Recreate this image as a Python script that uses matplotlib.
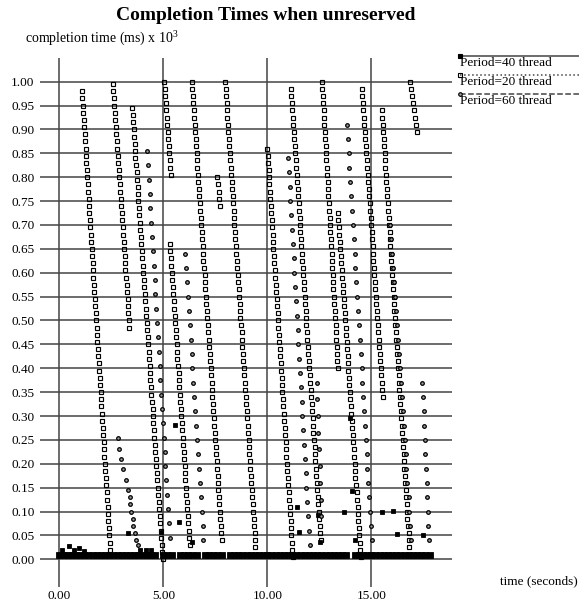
import matplotlib
matplotlib.use('Agg')
import matplotlib.pyplot as plt

plt.rcParams['font.family'] = ['Liberation Serif', 'DejaVu Serif']
plt.rcParams['mathtext.fontset'] = 'custom'
plt.rcParams['mathtext.rm'] = 'Liberation Serif'

# ---- data (time in s, completion time in ms x 10^3) ----
# Period=20 thread: open squares, one list per diagonal streak
p20_s1 = [(1.09,.98),(1.11,.965),(1.13,.95),(1.15,.935),(1.17,.92),(1.2,.905),(1.22,.89),(1.24,.875),(1.26,.86),(1.28,.845),(1.3,.83),(1.32,.815),(1.34,.8),(1.37,.785),(1.39,.77),(1.41,.755),(1.43,.74),(1.45,.725),(1.47,.71),(1.49,.695),(1.51,.68),(1.53,.665),(1.56,.65),(1.58,.635),(1.6,.62),(1.62,.605),(1.64,.59),(1.66,.575),(1.68,.56),(1.7,.545),(1.72,.53),(1.75,.515),(1.77,.5),(1.79,.485),(1.81,.47),(1.83,.455),(1.85,.44),(1.87,.425),(1.89,.41),(1.91,.395),(1.94,.38),(1.96,.365),(1.98,.35),(2.0,.335),(2.02,.32),(2.04,.305),(2.06,.29),(2.08,.275),(2.1,.26),(2.13,.245),(2.15,.23),(2.17,.215),(2.19,.2),(2.21,.185),(2.23,.17),(2.25,.155),(2.27,.14),(2.29,.125),(2.32,.11),(2.34,.095),(2.36,.08),(2.38,.065),(2.4,.05),(2.42,.035),(2.44,.02)]
p20_s2 = [(2.58,.995),(2.6,.98),(2.63,.965),(2.65,.95),(2.67,.935),(2.7,.92),(2.72,.905),(2.74,.89),(2.77,.875),(2.79,.86),(2.81,.845),(2.84,.83),(2.86,.815),(2.88,.8),(2.91,.785),(2.93,.77),(2.95,.755),(2.98,.74),(3.0,.725),(3.02,.71),(3.05,.695),(3.07,.68),(3.09,.665),(3.11,.65),(3.14,.635),(3.16,.62),(3.18,.605),(3.21,.59),(3.23,.575),(3.25,.56),(3.28,.545),(3.3,.53),(3.32,.515),(3.35,.5),(3.37,.485)]
p20_s3 = [(3.5,.945),(3.52,.93),(3.55,.915),(3.57,.9),(3.59,.885),(3.62,.87),(3.64,.855),(3.66,.84),(3.69,.825),(3.71,.81),(3.73,.795),(3.76,.78),(3.78,.765),(3.8,.75),(3.83,.735),(3.85,.72),(3.87,.705),(3.9,.69),(3.92,.675),(3.94,.66),(3.97,.645),(3.99,.63),(4.01,.615),(4.03,.6),(4.06,.585),(4.08,.57),(4.1,.555),(4.13,.54),(4.15,.525),(4.17,.51),(4.2,.495),(4.22,.48),(4.24,.465),(4.27,.45),(4.29,.435),(4.31,.42),(4.34,.405),(4.36,.39),(4.38,.375),(4.41,.36),(4.43,.345),(4.45,.33),(4.48,.315),(4.5,.3),(4.52,.285),(4.55,.27),(4.57,.255),(4.59,.24),(4.62,.225),(4.64,.21),(4.66,.195),(4.69,.18),(4.71,.165),(4.73,.15),(4.76,.135),(4.78,.12),(4.8,.105),(4.83,.09),(4.85,.075),(4.87,.06),(4.9,.045),(4.92,.03),(4.94,.015),(4.97,.0)]
p20_s4a = [(5.05,1.0),(5.07,.985),(5.1,.97),(5.12,.955),(5.15,.94),(5.17,.925),(5.19,.91),(5.22,.895),(5.24,.88),(5.27,.865),(5.29,.85),(5.31,.835),(5.34,.82),(5.36,.805)]
p20_s4b = [(5.32,.66),(5.34,.645),(5.37,.63),(5.39,.615),(5.41,.6),(5.43,.585),(5.46,.57),(5.48,.555),(5.5,.54),(5.52,.525),(5.55,.51),(5.57,.495),(5.59,.48),(5.61,.465),(5.64,.45),(5.66,.435),(5.68,.42),(5.7,.405),(5.73,.39),(5.75,.375),(5.77,.36),(5.79,.345),(5.82,.33),(5.84,.315),(5.86,.3),(5.88,.285),(5.91,.27),(5.93,.255),(5.95,.24),(5.97,.225),(6.0,.21),(6.02,.195),(6.04,.18),(6.06,.165),(6.09,.15),(6.11,.135),(6.13,.12),(6.15,.105),(6.18,.09),(6.2,.075),(6.22,.06),(6.24,.045),(6.27,.03)]
p20_s5 = [(6.37,1.0),(6.39,.985),(6.42,.97),(6.44,.955),(6.46,.94),(6.48,.925),(6.51,.91),(6.53,.895),(6.55,.88),(6.57,.865),(6.6,.85),(6.62,.835),(6.64,.82),(6.66,.805),(6.69,.79),(6.71,.775),(6.73,.76),(6.75,.745),(6.78,.73),(6.8,.715),(6.82,.7),(6.84,.685),(6.87,.67),(6.89,.655),(6.91,.64),(6.93,.625),(6.96,.61),(6.98,.595),(7.0,.58),(7.02,.565),(7.05,.55),(7.07,.535),(7.09,.52),(7.11,.505),(7.14,.49),(7.16,.475),(7.18,.46),(7.2,.445),(7.23,.43),(7.25,.415),(7.27,.4),(7.29,.385),(7.32,.37),(7.34,.355),(7.36,.34),(7.38,.325),(7.41,.31),(7.43,.295),(7.45,.28),(7.47,.265),(7.5,.25),(7.52,.235),(7.54,.22),(7.56,.205),(7.59,.19),(7.61,.175),(7.63,.16),(7.65,.145),(7.68,.13),(7.7,.115),(7.72,.1),(7.74,.085),(7.77,.07),(7.79,.055),(7.81,.04)]
p20_s6 = [(7.97,1.0),(7.99,.985),(8.02,.97),(8.04,.955),(8.06,.94),(8.08,.925),(8.11,.91),(8.13,.895),(8.15,.88),(8.17,.865),(8.2,.85),(8.22,.835),(8.24,.82),(8.26,.805),(8.29,.79),(8.31,.775),(8.33,.76),(8.35,.745),(8.38,.73),(8.4,.715),(8.42,.7),(8.44,.685),(8.47,.67),(8.49,.655),(8.51,.64),(8.53,.625),(8.56,.61),(8.58,.595),(8.6,.58),(8.62,.565),(8.65,.55),(8.67,.535),(8.69,.52),(8.71,.505),(8.74,.49),(8.76,.475),(8.78,.46),(8.8,.445),(8.83,.43),(8.85,.415),(8.87,.4),(8.89,.385),(8.92,.37),(8.94,.355),(8.96,.34),(8.98,.325),(9.01,.31),(9.03,.295),(9.05,.28),(9.07,.265),(9.1,.25),(9.12,.235),(9.14,.22),(9.16,.205),(9.19,.19),(9.21,.175),(9.23,.16),(9.25,.145),(9.28,.13),(9.3,.115),(9.32,.1),(9.34,.085),(9.37,.07),(9.39,.055),(9.41,.04),(9.43,.025),(9.46,.01)]
p20_s6b = [(7.59,.8),(7.62,.785),(7.66,.77),(7.69,.755),(7.73,.74)]
p20_s7 = [(9.99,.86),(10.01,.845),(10.03,.83),(10.06,.815),(10.08,.8),(10.1,.785),(10.12,.77),(10.14,.755),(10.16,.74),(10.19,.725),(10.21,.71),(10.23,.695),(10.25,.68),(10.27,.665),(10.29,.65),(10.32,.635),(10.34,.62),(10.36,.605),(10.38,.59),(10.4,.575),(10.43,.56),(10.45,.545),(10.47,.53),(10.49,.515),(10.51,.5),(10.53,.485),(10.56,.47),(10.58,.455),(10.6,.44),(10.62,.425),(10.64,.41),(10.66,.395),(10.69,.38),(10.71,.365),(10.73,.35),(10.75,.335),(10.77,.32),(10.79,.305),(10.82,.29),(10.84,.275),(10.86,.26),(10.88,.245),(10.9,.23),(10.92,.215),(10.95,.2),(10.97,.185),(10.99,.17),(11.01,.155),(11.03,.14),(11.05,.125),(11.08,.11),(11.1,.095),(11.12,.08),(11.14,.065),(11.16,.05),(11.18,.035),(11.21,.02),(11.23,.005)]
p20_s8 = [(11.14,.985),(11.16,.97),(11.19,.955),(11.21,.94),(11.23,.925),(11.25,.91),(11.28,.895),(11.3,.88),(11.32,.865),(11.34,.85),(11.37,.835),(11.39,.82),(11.41,.805),(11.43,.79),(11.46,.775),(11.48,.76),(11.5,.745),(11.52,.73),(11.55,.715),(11.57,.7),(11.59,.685),(11.61,.67),(11.64,.655),(11.66,.64),(11.68,.625),(11.7,.61),(11.73,.595),(11.75,.58),(11.77,.565),(11.79,.55),(11.82,.535),(11.84,.52),(11.86,.505),(11.88,.49),(11.91,.475),(11.93,.46),(11.95,.445),(11.97,.43),(12.0,.415),(12.02,.4),(12.04,.385),(12.06,.37),(12.09,.355),(12.11,.34),(12.13,.325),(12.15,.31),(12.18,.295),(12.2,.28),(12.22,.265),(12.24,.25),(12.27,.235),(12.29,.22),(12.31,.205),(12.33,.19),(12.36,.175),(12.38,.16),(12.4,.145),(12.42,.13),(12.45,.115),(12.47,.1),(12.49,.085),(12.51,.07),(12.54,.055),(12.56,.04)]
p20_s9 = [(12.63,1.0),(12.65,.985),(12.67,.97),(12.69,.955),(12.71,.94),(12.73,.925),(12.74,.91),(12.76,.895),(12.78,.88),(12.8,.865),(12.82,.85),(12.84,.835),(12.86,.82),(12.88,.805),(12.9,.79),(12.92,.775),(12.93,.76),(12.95,.745),(12.97,.73),(12.99,.715),(13.01,.7),(13.03,.685),(13.05,.67),(13.07,.655),(13.09,.64),(13.11,.625),(13.12,.61),(13.14,.595),(13.16,.58),(13.18,.565),(13.2,.55),(13.22,.535),(13.24,.52),(13.26,.505),(13.28,.49),(13.3,.475),(13.31,.46),(13.33,.445),(13.35,.43),(13.37,.415),(13.39,.4)]
p20_s9b = [(13.4,.725),(13.42,.71),(13.45,.695),(13.47,.68),(13.49,.665),(13.51,.65),(13.54,.635),(13.56,.62),(13.58,.605),(13.61,.59),(13.63,.575),(13.65,.56),(13.67,.545),(13.7,.53),(13.72,.515),(13.74,.5),(13.76,.485),(13.79,.47),(13.81,.455),(13.83,.44),(13.86,.425),(13.88,.41),(13.9,.395),(13.92,.38),(13.95,.365),(13.97,.35),(13.99,.335),(14.02,.32),(14.04,.305),(14.06,.29),(14.08,.275),(14.11,.26),(14.13,.245),(14.15,.23),(14.18,.215),(14.2,.2),(14.22,.185),(14.24,.17),(14.27,.155),(14.29,.14),(14.31,.125),(14.34,.11),(14.36,.095),(14.38,.08),(14.4,.065),(14.43,.05),(14.45,.035),(14.47,.02),(14.49,.005)]
p20_s10 = [(14.55,.985),(14.57,.97),(14.6,.955),(14.62,.94),(14.64,.925),(14.67,.91),(14.69,.895),(14.71,.88),(14.73,.865),(14.76,.85),(14.78,.835),(14.8,.82),(14.83,.805),(14.85,.79),(14.87,.775),(14.9,.76),(14.92,.745),(14.94,.73),(14.97,.715),(14.99,.7),(15.01,.685),(15.04,.67),(15.06,.655),(15.08,.64),(15.1,.625),(15.13,.61),(15.15,.595),(15.17,.58),(15.2,.565),(15.22,.55),(15.24,.535),(15.27,.52),(15.29,.505),(15.31,.49),(15.34,.475),(15.36,.46),(15.38,.445),(15.4,.43),(15.43,.415),(15.45,.4),(15.47,.385),(15.5,.37),(15.52,.355),(15.54,.34)]
p20_s11 = [(15.51,.94),(15.53,.925),(15.55,.91),(15.57,.895),(15.6,.88),(15.62,.865),(15.64,.85),(15.66,.835),(15.68,.82),(15.7,.805),(15.73,.79),(15.75,.775),(15.77,.76),(15.79,.745),(15.81,.73),(15.83,.715),(15.86,.7),(15.88,.685),(15.9,.67),(15.92,.655),(15.94,.64),(15.96,.625),(15.99,.61),(16.01,.595),(16.03,.58),(16.05,.565),(16.07,.55),(16.09,.535),(16.11,.52),(16.14,.505),(16.16,.49),(16.18,.475),(16.2,.46),(16.22,.445),(16.24,.43),(16.27,.415),(16.29,.4),(16.31,.385),(16.33,.37),(16.35,.355),(16.37,.34),(16.4,.325),(16.42,.31),(16.44,.295),(16.46,.28),(16.48,.265),(16.5,.25),(16.53,.235),(16.55,.22),(16.57,.205),(16.59,.19),(16.61,.175),(16.63,.16),(16.66,.145),(16.68,.13),(16.7,.115),(16.72,.1),(16.74,.085),(16.76,.07),(16.79,.055),(16.81,.04),(16.83,.025),(16.85,.01)]
p20_s12 = [(16.86,1.0),(16.91,.985),(16.96,.97),(17.0,.955),(17.05,.94),(17.1,.925),(17.15,.91),(17.2,.895)]

# Period=60 thread: circles
p60_c0 = [(2.83,.255),(2.88,.23),(2.95,.21),(3.05,.19),(3.2,.165),(3.32,.145),(3.38,.13),(3.42,.115),(3.46,.1),(3.52,.085),(3.56,.07),(3.62,.055),(3.7,.04),(3.78,.03)]
p60_c1 = [(4.22,.855),(4.26,.825),(4.3,.795),(4.34,.765),(4.38,.735),(4.42,.705),(4.46,.675),(4.5,.645),(4.54,.615),(4.58,.585),(4.62,.555),(4.66,.525),(4.7,.495),(4.74,.465),(4.78,.435),(4.82,.405),(4.86,.375),(4.9,.345),(4.94,.315),(4.98,.285),(5.02,.255),(5.06,.225),(5.1,.195),(5.14,.165),(5.18,.135),(5.22,.105),(5.26,.075),(5.3,.045)]
p60_c7 = [(6.05,.64),(6.09,.61),(6.14,.58),(6.18,.55),(6.23,.52),(6.27,.49),(6.31,.46),(6.36,.43),(6.4,.4),(6.45,.37),(6.49,.34),(6.53,.31),(6.58,.28),(6.62,.25),(6.67,.22),(6.71,.19),(6.75,.16),(6.8,.13),(6.84,.1),(6.89,.07),(6.93,.04)]
p60_c2 = [(11.0,.84),(11.04,.81),(11.08,.78),(11.11,.75),(11.15,.72),(11.19,.69),(11.23,.66),(11.27,.63),(11.3,.6),(11.34,.57),(11.38,.54),(11.42,.51),(11.46,.48),(11.49,.45),(11.53,.42),(11.57,.39),(11.61,.36),(11.65,.33),(11.68,.3),(11.72,.27),(11.76,.24),(11.8,.21),(11.84,.18),(11.87,.15),(11.91,.12),(11.95,.09),(11.99,.06),(12.03,.03)]
p60_c6 = [(12.39,.37),(12.41,.335),(12.44,.3),(12.46,.265),(12.49,.23),(12.51,.195),(12.54,.16),(12.56,.125),(12.59,.09)]
p60_c3 = [(13.83,.91),(13.87,.88),(13.91,.85),(13.95,.82),(13.99,.79),(14.04,.76),(14.08,.73),(14.12,.7),(14.16,.67),(14.2,.64),(14.24,.61),(14.28,.58),(14.32,.55),(14.36,.52),(14.4,.49),(14.45,.46),(14.49,.43),(14.53,.4),(14.57,.37),(14.61,.34),(14.65,.31),(14.69,.28),(14.73,.25),(14.77,.22),(14.81,.19),(14.86,.16),(14.9,.13),(14.94,.1),(14.98,.07),(15.02,.04)]
p60_c4 = [(15.9,.7),(15.95,.67),(15.99,.64),(16.04,.61),(16.09,.58),(16.13,.55),(16.18,.52),(16.23,.49),(16.27,.46),(16.32,.43),(16.37,.4),(16.41,.37),(16.46,.34),(16.51,.31),(16.55,.28),(16.6,.25),(16.65,.22),(16.69,.19),(16.74,.16),(16.79,.13),(16.83,.1),(16.88,.07),(16.93,.04)]
p60_c5 = [(17.45,.37),(17.48,.34),(17.51,.31),(17.54,.28),(17.57,.25),(17.6,.22),(17.63,.19),(17.66,.16),(17.69,.13),(17.72,.1),(17.75,.07),(17.78,.04)]

# Period=40 thread: filled squares, mostly a dense band just above zero
p40_band_x = [0.0,0.2,0.4,0.6,0.8,1.0,1.2,1.4,1.6,1.8,2.0,2.2,2.4,2.6,2.8,3.0,3.2,3.4,3.6,3.8,4.0,4.2,4.4,4.6,
              5.0,5.2,5.4,5.8,6.0,6.2,6.4,6.6,7.0,7.2,7.4,7.6,7.8,
              8.2,8.4,8.6,8.8,9.0,9.2,9.4,9.6,9.8,10.0,10.2,10.4,10.6,10.8,11.0,11.2,11.4,11.6,11.8,
              12.0,12.2,12.4,12.6,12.8,13.0,13.2,13.4,13.6,13.8,
              14.2,14.4,14.6,14.8,15.0,15.2,15.4,15.6,15.8,16.0,16.2,16.4,16.6,16.8,17.0,17.2,17.4,17.6,17.8]
p40_band_level = 0.01
p40_extra = [(0.15,.02),(0.45,.027),(0.7,.02),(0.95,.024),(1.2,.018),(3.9,.02),(4.15,.02),(4.4,.02),
             (3.29,.055),(4.87,.058),(5.75,.079),(6.38,.037),(5.56,.281),(11.45,.109),(11.51,.058),
             (12.45,.093),(12.53,.037),(13.68,.1),(14.07,.144),(14.21,.04),(13.98,.296),(15.53,.098),
             (16.06,.102),(16.24,.053),(17.47,.05)]

p20_streaks = [p20_s1, p20_s2, p20_s3, p20_s4a, p20_s4b, p20_s5, p20_s6, p20_s6b,
               p20_s7, p20_s8, p20_s9, p20_s9b, p20_s10, p20_s11, p20_s12]
p60_streaks = [p60_c0, p60_c1, p60_c7, p60_c2, p60_c6, p60_c3, p60_c4, p60_c5]

series_names = ['Period=40 thread', 'Period=20 thread', 'Period=60 thread']
x_ticks = [0, 5, 10, 15]
y_ticks = [0.0, 0.05, 0.1, 0.15, 0.2, 0.25, 0.3, 0.35, 0.4, 0.45, 0.5,
           0.55, 0.6, 0.65, 0.7, 0.75, 0.8, 0.85, 0.9, 0.95, 1.0]

W, H = 579, 603
fig = plt.figure(figsize=(W / 100, H / 100), dpi=100)
fig.patch.set_facecolor('white')

# plot area in pixel terms
ax = fig.add_axes([40 / W, 1 - 587 / H, 412 / W, 529 / H])
ax.set_xlim(-0.93, 18.88)
ax.set_ylim(-0.058, 1.0496)
for s in ax.spines.values():
    s.set_visible(False)
ax.set_xticks(x_ticks)
ax.set_xticklabels(['%.2f' % v for v in x_ticks], fontsize=9.5)
ax.set_yticks(y_ticks)
ax.set_yticklabels(['%.2f' % v for v in y_ticks], fontsize=9.5)
ax.tick_params(length=0)
ax.tick_params(axis='x', pad=2.5)
ax.tick_params(axis='y', pad=4)
ax.grid(True, color='#444444', lw=1.1)
ax.set_axisbelow(True)

# Period=40 band + extras
ax.plot(p40_band_x, [p40_band_level] * len(p40_band_x), ls='none', marker='s',
        ms=4.0, mfc='black', mec='black', mew=0.6)
ex, ey = zip(*p40_extra)
ax.plot(ex, ey, ls='none', marker='s', ms=2.8, mfc='black', mec='black', mew=0.6)

for pts in p20_streaks:
    xs, ys = zip(*pts)
    ax.plot(xs, ys, ls='none', marker='s', ms=2.8, mfc='none', mec='black', mew=0.85)

for pts in p60_streaks:
    xs, ys = zip(*pts)
    ax.plot(xs, ys, ls='none', marker='o', ms=2.6, mfc='#999999', mec='black', mew=0.9)

# overlay in pixel coordinates for title, labels and legend
lay = fig.add_axes([0, 0, 1, 1])
lay.set_xlim(0, W)
lay.set_ylim(H, 0)
lay.axis('off')

lay.text(266, 15, 'Completion Times when unreserved', ha='center', va='center',
         fontsize=14, fontweight='bold')
lay.text(25, 38, 'completion time (ms) x 10$^{3}$', ha='left', va='center', fontsize=10)
lay.text(578, 581, 'time (seconds)', ha='right', va='center', fontsize=9.5)

leg_y = [56, 75, 94]
leg_ls = ['-', ':', '--']
leg_mk = [dict(marker='s', mfc='black'), dict(marker='s', mfc='none'), dict(marker='o', mfc='#999999')]
for name, yy, ls, mk in zip(series_names, leg_y, leg_ls, leg_mk):
    lay.plot([460, W], [yy, yy], color='#444444', ls=ls, lw=1.1)
    lay.plot([460], [yy], ls='none', ms=2.6, mec='black', mew=0.8, **mk)
    lay.text(460, yy + 7, name, ha='left', va='center', fontsize=9.5)

fig.savefig('out.png', dpi=100)
